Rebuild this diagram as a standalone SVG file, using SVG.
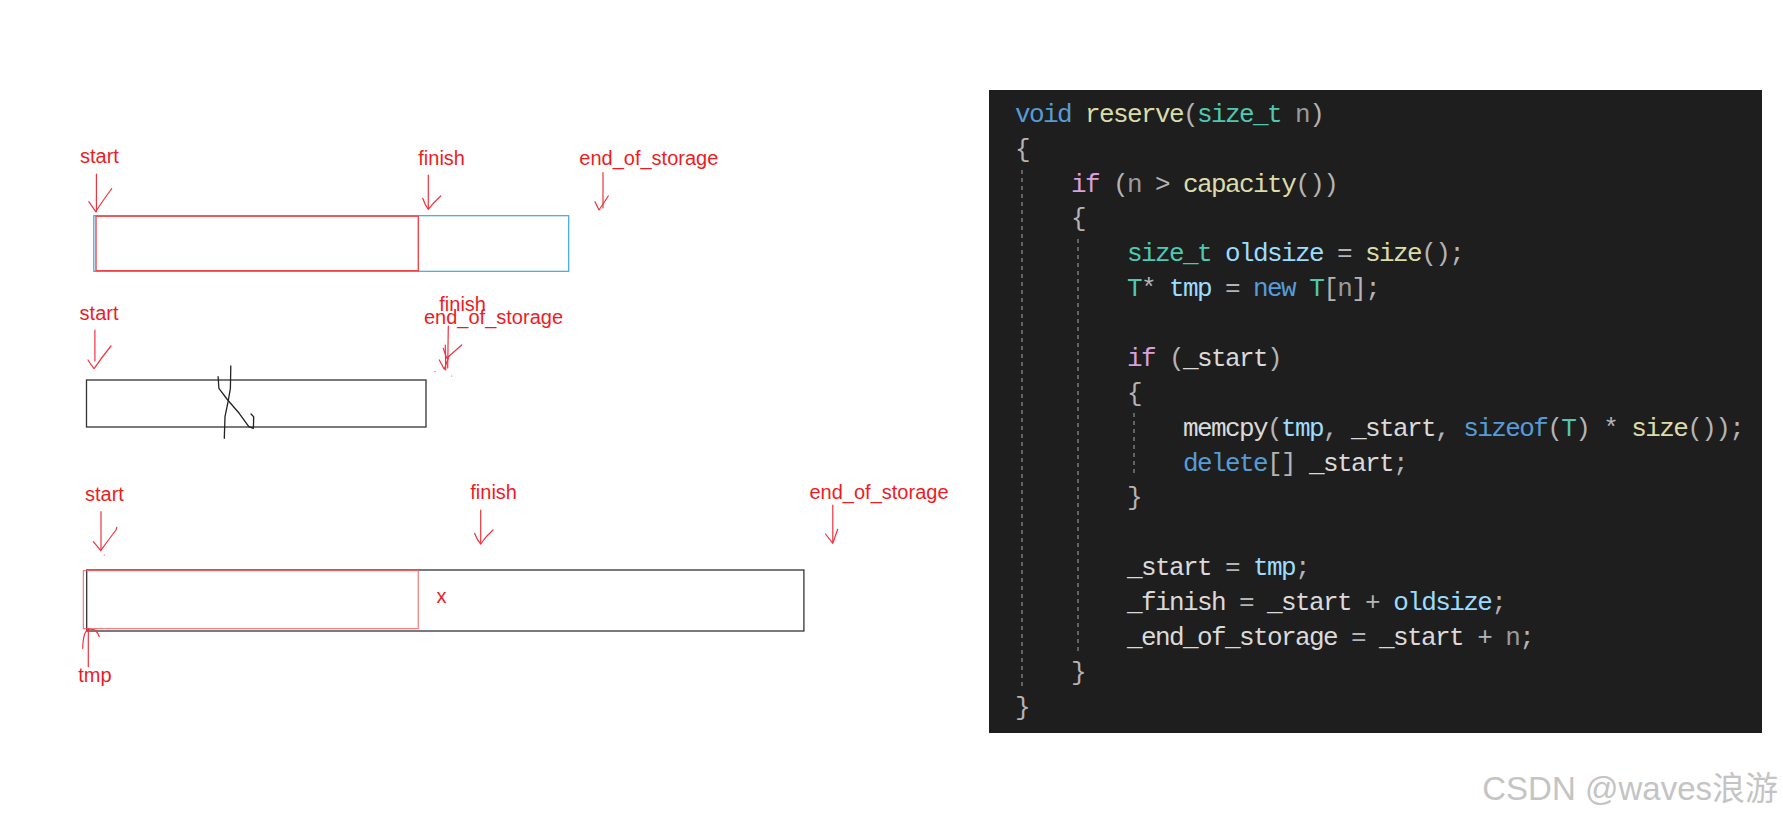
<svg xmlns="http://www.w3.org/2000/svg" width="1783" height="817" viewBox="0 0 1783 817">
<style>
.lbl{font-family:"Liberation Sans",Arial,sans-serif;font-size:20px;fill:#ED1C24}
.arr{fill:none;stroke:#EE3340;stroke-width:1.2;stroke-linecap:round;stroke-linejoin:round}
.scr{fill:none;stroke:#222;stroke-width:1.3;stroke-linecap:round;stroke-linejoin:round}
.box{fill:none;stroke:#333;stroke-width:1.3}
.code{font-family:"Liberation Mono","DejaVu Sans Mono",monospace;font-size:26px;letter-spacing:-1.6px;white-space:pre;fill:#B4B4B4}
.kw{fill:#569CD6}.fn{fill:#DCDCAA}.ty{fill:#4EC9B0}.pu{fill:#B4B4B4}.pa{fill:#9A9A9A}.ct{fill:#D8A0DF}.lv{fill:#9CDCFE}.mb{fill:#DADADA}
.guide{stroke:#7a7a7a;stroke-width:1.5;stroke-dasharray:4 4}
</style>
<rect width="1783" height="817" fill="#ffffff"/>

<g id="diagram-1">
<rect x="93.8" y="215.7" width="474.9" height="55.6" fill="none" stroke="#3CA6E0" stroke-width="1.2"/>
<rect x="96" y="216.2" width="322.3" height="54.5" fill="none" stroke="#F0464B" stroke-width="1.4"/>
<text class="lbl" x="80" y="163.3">start</text>
<text class="lbl" x="418.3" y="165">finish</text>
<text class="lbl" x="579.3" y="165">end_of_storage</text>
</g>

<g id="diagram-2">
<rect class="box" x="86.5" y="380" width="339.5" height="47"/>
<text class="lbl" x="79.6" y="320">start</text>
<text class="lbl" x="439.3" y="310.7">finish</text>
<text class="lbl" x="424" y="323.8">end_of_storage</text>
<path class="scr" d="M230.8,366 L230.4,388.3 L228.1,401.7 L225,416.7 L224.3,438.3"/>
<path class="scr" d="M218.1,376.7 L218.9,388.3 L227.7,400 L239.2,413.3 L248.8,426.7 L253.4,428.3 L253.7,416.7 L251,414"/>
</g>

<g id="diagram-3">
<rect class="box" x="86.7" y="570" width="717.2" height="61"/>
<rect x="83.3" y="570.7" width="334.9" height="58" fill="none" stroke="#F06060" stroke-width="1"/>
<text class="lbl" x="85" y="500.7">start</text>
<text class="lbl" x="470.3" y="499.3">finish</text>
<text class="lbl" x="809.5" y="499.3">end_of_storage</text>
<text class="lbl" x="436.6" y="603.3" font-size="18">x</text>
<text class="lbl" x="78.3" y="681.7">tmp</text>
</g>

<g id="connectors">
<path class="arr" d="M96.4,174 L96.4,211.7"/>
<path class="arr" d="M88.8,201.7 Q92.5,207 95.7,211.7 Q104,199 110,191 L111.7,188.7"/>
<path class="arr" d="M428.3,175 L428.3,208.3"/>
<path class="arr" d="M422.7,198.3 Q425,205 428.3,209.3 Q434,202 440.7,196"/>
<path class="arr" d="M603,172.7 L603,208"/>
<path class="arr" d="M595,201.7 L599,210 L608.3,196"/>

<path class="arr" d="M94.9,330 L94.9,361"/>
<path class="arr" d="M88,360 Q91,365 94.1,368.7 Q102,357 111,346"/>
<path class="arr" d="M448.3,326 L447.7,368"/>
<path class="arr" d="M445.3,345 L445.7,370"/>
<path class="arr" d="M439.3,360 L444.3,369.3 L449,356"/>
<path class="arr" d="M443.3,348.3 L446.7,358.3 L461.7,345"/>
<circle cx="435" cy="371.7" r="0.6" fill="#EE3340"/>
<circle cx="451.7" cy="376" r="0.6" fill="#EE3340"/>

<path class="arr" d="M101,511.7 L101,550"/>
<path class="arr" d="M93.3,541.7 Q97,546 100.7,550.7 Q109,539 116,530 L116.7,527.3"/>
<circle cx="104.3" cy="555" r="0.6" fill="#EE3340"/>
<path class="arr" d="M480.7,510 L480.7,543"/>
<path class="arr" d="M474.6,533.3 Q477,540 480.7,544 Q486,536 493,530"/>
<path class="arr" d="M832.8,505 L832.8,542"/>
<path class="arr" d="M825.5,534 L832.8,543.3 L837.7,529.3"/>
<path class="arr" d="M88.3,628.3 L88.3,666.7"/>
<path class="arr" d="M82.7,648.3 Q83,638 85,633.3 Q86.5,630 88.3,629.3 Q93,629 95,630 Q98,633 99.3,636.7"/>
</g>

<g id="code-panel">
<rect x="989" y="90" width="773" height="643" fill="#1E1E1E"/>
<line class="guide" x1="1022" y1="170" x2="1022" y2="688"/>
<line class="guide" x1="1078" y1="239" x2="1078" y2="653"/>
<line class="guide" x1="1134" y1="413" x2="1134" y2="474"/>
<text class="code" xml:space="preserve" x="1015" y="121.7"><tspan class="kw">void</tspan> <tspan class="fn">reserve</tspan><tspan class="pu">(</tspan><tspan class="ty">size_t</tspan> <tspan class="pa">n</tspan><tspan class="pu">)</tspan></text>
<text class="code" x="1015" y="156.6">{</text>
<text class="code" xml:space="preserve" x="1071" y="191.5"><tspan class="ct">if</tspan> <tspan class="pu">(</tspan><tspan class="pa">n</tspan> <tspan class="pu">&gt;</tspan> <tspan class="fn">capacity</tspan><tspan class="pu">())</tspan></text>
<text class="code" x="1071" y="226.3">{</text>
<text class="code" xml:space="preserve" x="1127" y="261.2"><tspan class="ty">size_t</tspan> <tspan class="lv">oldsize</tspan> <tspan class="pu">=</tspan> <tspan class="fn">size</tspan><tspan class="pu">();</tspan></text>
<text class="code" xml:space="preserve" x="1127" y="296.1"><tspan class="ty">T</tspan><tspan class="pu">*</tspan> <tspan class="lv">tmp</tspan> <tspan class="pu">=</tspan> <tspan class="kw">new</tspan> <tspan class="ty">T</tspan><tspan class="pu">[</tspan><tspan class="pa">n</tspan><tspan class="pu">];</tspan></text>
<text class="code" xml:space="preserve" x="1127" y="365.9"><tspan class="ct">if</tspan> <tspan class="pu">(</tspan><tspan class="mb">_start</tspan><tspan class="pu">)</tspan></text>
<text class="code" x="1127" y="400.7">{</text>
<text class="code" xml:space="preserve" x="1183" y="435.6"><tspan class="mb">memcpy</tspan><tspan class="pu">(</tspan><tspan class="lv">tmp</tspan><tspan class="pu">,</tspan> <tspan class="mb">_start</tspan><tspan class="pu">,</tspan> <tspan class="kw">sizeof</tspan><tspan class="pu">(</tspan><tspan class="ty">T</tspan><tspan class="pu">)</tspan> <tspan class="pu">*</tspan> <tspan class="fn">size</tspan><tspan class="pu">());</tspan></text>
<text class="code" xml:space="preserve" x="1183" y="470.5"><tspan class="kw">delete</tspan><tspan class="pu">[]</tspan> <tspan class="mb">_start</tspan><tspan class="pu">;</tspan></text>
<text class="code" x="1127" y="505.4">}</text>
<text class="code" xml:space="preserve" x="1127" y="575.1"><tspan class="mb">_start</tspan> <tspan class="pu">=</tspan> <tspan class="lv">tmp</tspan><tspan class="pu">;</tspan></text>
<text class="code" xml:space="preserve" x="1127" y="610"><tspan class="mb">_finish</tspan> <tspan class="pu">=</tspan> <tspan class="mb">_start</tspan> <tspan class="pu">+</tspan> <tspan class="lv">oldsize</tspan><tspan class="pu">;</tspan></text>
<text class="code" xml:space="preserve" x="1127" y="644.9"><tspan class="mb">_end_of_storage</tspan> <tspan class="pu">=</tspan> <tspan class="mb">_start</tspan> <tspan class="pu">+</tspan> <tspan class="pa">n</tspan><tspan class="pu">;</tspan></text>
<text class="code" x="1071" y="679.8">}</text>
<text class="code" x="1015" y="714.6">}</text>
</g>

<text x="1778" y="800" text-anchor="end" font-family="'Liberation Sans','Noto Sans CJK SC',sans-serif" font-size="33" fill="#c4c4c4">CSDN @waves浪游</text>
</svg>
